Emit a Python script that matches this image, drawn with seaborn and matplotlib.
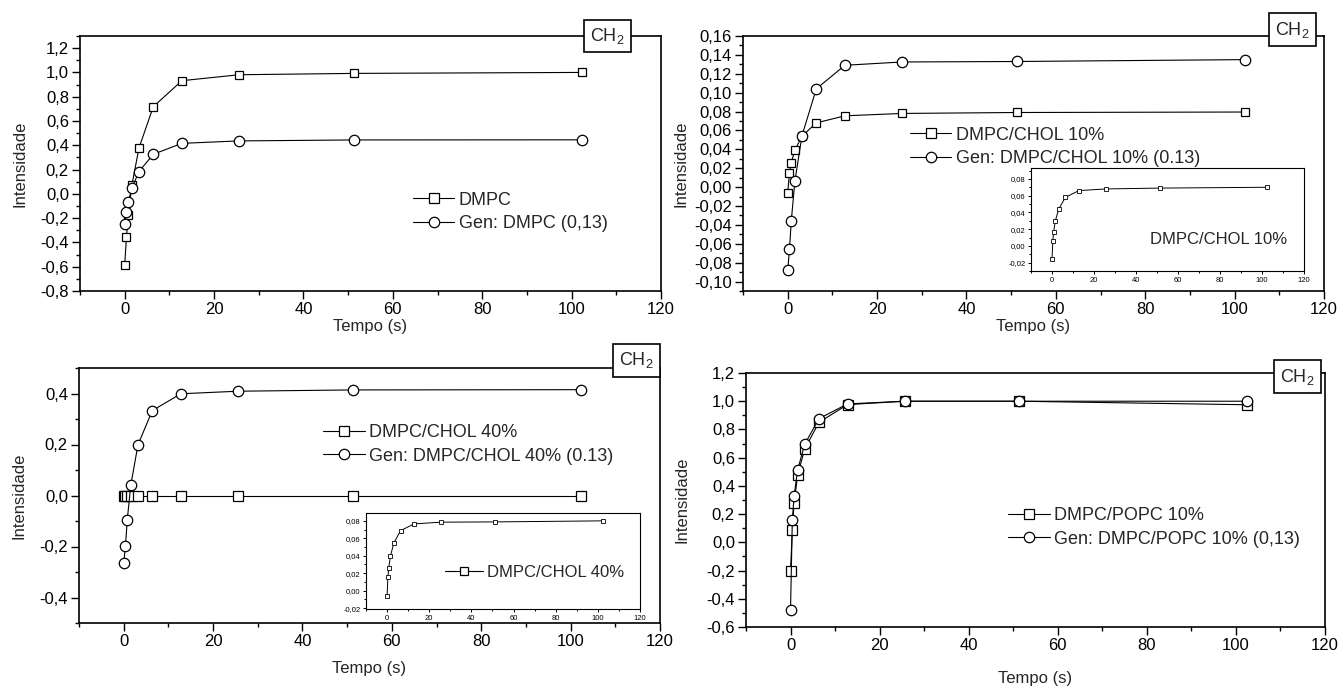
import matplotlib
matplotlib.use("Agg")
import matplotlib.pyplot as plt
import seaborn as sns
import pandas as pd
from matplotlib.ticker import MultipleLocator, FuncFormatter, FixedLocator
from matplotlib.lines import Line2D

# ---------------- data ----------------
tempo = [0, 0.4, 0.8, 1.6, 3.2, 6.4, 12.8, 25.6, 51.2, 102.4]

dmpc = [-0.584, -0.353, -0.175, 0.07, 0.378, 0.718, 0.932, 0.981, 0.992, 1.0]
gen_dmpc = [-0.252, -0.151, -0.066, 0.047, 0.184, 0.326, 0.416, 0.436, 0.444, 0.445]

chol10 = [-0.006, 0.015, 0.026, 0.039, 0.054, 0.068, 0.0755, 0.078, 0.079, 0.0795]
gen_chol10 = [-0.088, -0.066, -0.036, 0.006, 0.0545, 0.104, 0.129, 0.1325, 0.133, 0.135]
chol10_inset = [-0.016, 0.006, 0.017, 0.030, 0.044, 0.058, 0.066, 0.068, 0.069, 0.070]

chol40 = [0.0, 0.0, 0.0, 0.0, 0.0, 0.0, 0.0, 0.0, 0.0, 0.0]
gen_chol40 = [-0.266, -0.197, -0.095, 0.042, 0.199, 0.333, 0.399, 0.409, 0.414, 0.415]
chol40_inset = [-0.006, 0.0154, 0.0265, 0.0396, 0.0546, 0.0688, 0.0765, 0.0785, 0.0788, 0.080]

popc10 = [-0.201, 0.088, 0.277, 0.479, 0.663, 0.851, 0.976, 1.0, 1.0, 0.975]
gen_popc10 = [-0.476, 0.159, 0.329, 0.514, 0.697, 0.877, 0.981, 1.0, 1.0, 1.0]

labels_p1 = ["DMPC", "Gen: DMPC (0,13)"]
labels_p2 = ["DMPC/CHOL 10%", "Gen: DMPC/CHOL 10% (0.13)"]
labels_p3 = ["DMPC/CHOL 40%", "Gen: DMPC/CHOL 40% (0.13)"]
labels_p4 = ["DMPC/POPC 10%", "Gen: DMPC/POPC 10% (0,13)"]
inset2_label = "DMPC/CHOL 10%"
inset3_label = "DMPC/CHOL 40%"
box_label = r"CH$_2$"
xlabel = "Tempo (s)"
ylabel = "Intensidade"

# ---------------- style ----------------
sns.set_style("ticks")
plt.rcParams["font.family"] = ["Liberation Sans", "DejaVu Sans"]
plt.rcParams["mathtext.default"] = "regular"

fig = plt.figure(figsize=(13.43, 6.86), dpi=100)
W, H = 1343, 686


def add_ax(left, right, top, bottom):
    return fig.add_axes([left / W, 1 - bottom / H, (right - left) / W, (bottom - top) / H])


def comma_fmt(dec):
    def f(v, p):
        s = f"{v:.{dec}f}"
        if float(s) == 0:
            s = f"{0:.{dec}f}"
        return s.replace(".", ",")
    return FuncFormatter(f)


def style_main(ax, ylim, ymaj, ymin, dec):
    ax.set_xlim(-10, 120)
    ax.set_ylim(*ylim)
    ax.xaxis.set_major_locator(MultipleLocator(20))
    ax.xaxis.set_minor_locator(MultipleLocator(10))
    ax.yaxis.set_major_locator(MultipleLocator(ymaj))
    ax.yaxis.set_minor_locator(MultipleLocator(ymin))
    ax.yaxis.set_major_formatter(comma_fmt(dec))
    ax.tick_params(which="both", direction="out", top=False, right=False,
                   colors="black", labelsize=12, pad=2)
    ax.tick_params(which="major", length=6, width=1.0)
    ax.tick_params(which="minor", length=3, width=1.0)
    for sp in ax.spines.values():
        sp.set_visible(True)
        sp.set_linewidth(1.2)
        sp.set_color("black")
    ax.set_facecolor("white")


def style_inset(ax, ylim, yticks):
    ax.set_xlim(-10, 120)
    ax.set_ylim(*ylim)
    ax.xaxis.set_major_locator(MultipleLocator(20))
    ax.xaxis.set_minor_locator(MultipleLocator(10))
    ax.yaxis.set_major_locator(FixedLocator(yticks))
    ax.yaxis.set_minor_locator(MultipleLocator(0.01))
    ax.yaxis.set_major_formatter(comma_fmt(2))
    ax.tick_params(which="both", direction="out", top=False, right=False,
                   colors="black", labelsize=5.5, pad=1.5)
    ax.tick_params(which="major", length=2.5, width=0.7)
    ax.tick_params(which="minor", length=1.5, width=0.7)
    for sp in ax.spines.values():
        sp.set_visible(True)
        sp.set_linewidth(0.8)
        sp.set_color("black")
    ax.set_facecolor("white")


def series(ax, y, marker, ms, lw=0.8, mew=0.9):
    df = pd.DataFrame({"t": tempo, "v": y})
    sns.lineplot(data=df, x="t", y="v", ax=ax, color="black", marker=marker,
                 markersize=ms, markerfacecolor="white", markeredgecolor="black",
                 markeredgewidth=mew, linewidth=lw, estimator=None, legend=False)


def handle(marker, ms, lw=0.8, mew=0.9):
    return Line2D([], [], color="black", lw=lw, marker=marker, ms=ms,
                  mfc="white", mec="black", mew=mew)


def legend(ax, labels, x, y, fs=13):
    hs = [handle("s", 6.5), handle("o", 7.5)][:len(labels)]
    ax.legend(hs, labels, loc="center left", bbox_to_anchor=(x, y), frameon=False,
              fontsize=fs, handlelength=2.3, handletextpad=0.25, labelspacing=0.35,
              borderpad=0, borderaxespad=0)


def ch2(ax, x, y):
    ax.text(x, y, box_label, transform=ax.transAxes, ha="center", va="center",
            fontsize=13, zorder=20, clip_on=False,
            bbox=dict(boxstyle="square,pad=0.35", fc="white", ec="black", lw=1.2))


def labels(ax, xl_y, yl_x):
    ax.set_xlabel(xlabel, fontsize=12)
    ax.set_ylabel(ylabel, fontsize=12)
    ax.xaxis.set_label_coords(0.5, xl_y)
    ax.yaxis.set_label_coords(yl_x, 0.5)


# ---------------- panel 1 ----------------
ax1 = add_ax(80, 661, 36, 291)
series(ax1, dmpc, "s", 6)
series(ax1, gen_dmpc, "o", 7.5)
style_main(ax1, (-0.8, 1.3), 0.2, 0.1, 1)
labels(ax1, -0.108, -0.09)
legend(ax1, labels_p1, 0.573, 0.31)
ch2(ax1, 0.908, 1.0)

# ---------------- panel 2 ----------------
ax2 = add_ax(743, 1324, 36, 291)
series(ax2, chol10, "s", 6)
series(ax2, gen_chol10, "o", 7.5)
style_main(ax2, (-0.11, 0.16), 0.02, 0.01, 2)
labels(ax2, -0.108, -0.093)
legend(ax2, labels_p2, 0.287, 0.565)
ch2(ax2, 0.946, 1.025)

ins2 = add_ax(1031, 1304, 168, 271)
series(ins2, chol10_inset, "s", 3.2, lw=0.7, mew=0.6)
style_inset(ins2, (-0.03, 0.093), [-0.02, 0.0, 0.02, 0.04, 0.06, 0.08])
ins2.set_xlabel("")
ins2.set_ylabel("")
ins2.text(0.436, 0.31, inset2_label, transform=ins2.transAxes, ha="left",
          va="center", fontsize=12)

# ---------------- panel 3 ----------------
ax3 = add_ax(79, 660, 368, 623)
series(ax3, chol40, "s", 6.5)
series(ax3, gen_chol40, "o", 7.5)
style_main(ax3, (-0.5, 0.5), 0.2, 0.1, 1)
labels(ax3, -0.15, -0.09)
legend(ax3, labels_p3, 0.42, 0.70)
ch2(ax3, 0.959, 1.03)

ins3 = add_ax(366, 640, 513, 609)
series(ins3, chol40_inset, "s", 3.2, lw=0.7, mew=0.6)
style_inset(ins3, (-0.021, 0.089), [-0.02, 0.0, 0.02, 0.04, 0.06, 0.08])
ins3.set_xlabel("")
ins3.set_ylabel("")
ins3.legend([handle("s", 5.5)], [inset3_label], loc="center left",
            bbox_to_anchor=(0.288, 0.385), frameon=False, fontsize=12,
            handlelength=2.3, handletextpad=0.25, borderpad=0, borderaxespad=0)

# ---------------- panel 4 ----------------
ax4 = add_ax(746, 1325, 373, 627)
series(ax4, popc10, "s", 6.5)
series(ax4, gen_popc10, "o", 7.5)
style_main(ax4, (-0.6, 1.2), 0.2, 0.1, 1)
labels(ax4, -0.172, -0.097)
legend(ax4, labels_p4, 0.4525, 0.392)
ch2(ax4, 0.953, 0.985)

fig.savefig("out.png", dpi=100, facecolor="white")
